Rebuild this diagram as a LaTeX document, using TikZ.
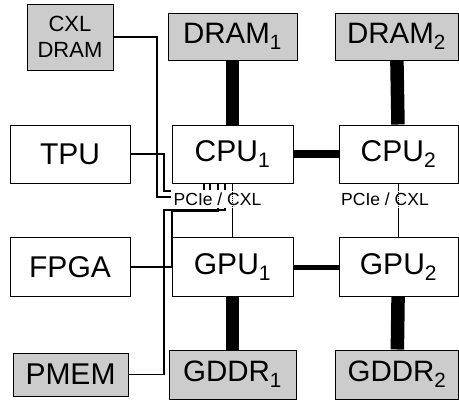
\documentclass[tikz,border=0pt]{standalone}
\usepackage{fontspec}
\setmainfont{Liberation Sans}
\usetikzlibrary{calc}
\newcommand\idx[1]{\textsubscript{#1}}
\begin{document}
\begin{tikzpicture}[x=1pt,y=-1pt,
  box/.style={draw=black, line width=1pt, fill=white, inner sep=0pt,
    font=\fontsize{30}{36}\selectfont},
  mem/.style={box, fill=black!20, font=\fontsize{29.5}{35}\selectfont},
  bus/.style={line width=1.4pt},
  fat/.style={line width=13.5pt},
  lbl/.style={fill=white, inner xsep=3pt, inner ysep=2.5pt,
    font=\fontsize{17.5}{21}\selectfont}]
\useasboundingbox (0,0) rectangle (459,400);

% nodes
\node[mem, minimum width=86pt, minimum height=66pt, align=center,
  font=\fontsize{22}{26}\selectfont] (cxl) at (70,37) {CXL\\DRAM};
\node[box, minimum width=120pt, minimum height=58pt] (tpu) at (70,154) {TPU};
\node[box, minimum width=120pt, minimum height=59pt] (fpga) at (70,267) {FPGA};
\node[mem, minimum width=115pt, minimum height=43pt, font=\fontsize{30}{36}\selectfont] (pmem) at (70.5,374.5) {PMEM};

\node[mem, minimum width=129pt, minimum height=47pt] (dram1) at (232.5,36.5) {DRAM\idx{1}};
\node[mem, minimum width=123pt, minimum height=47pt] (dram2) at (396.5,36.5) {DRAM\idx{2}};
\node[box, minimum width=121pt, minimum height=58pt] (cpu1) at (232.5,154) {CPU\idx{1}};
\node[box, minimum width=119pt, minimum height=58pt] (cpu2) at (398.5,154) {CPU\idx{2}};
\node[box, minimum width=121pt, minimum height=59pt] (gpu1) at (232.5,267) {GPU\idx{1}};
\node[box, minimum width=119pt, minimum height=59pt] (gpu2) at (398.5,267) {GPU\idx{2}};
\node[mem, minimum width=127pt, minimum height=49pt] (gddr1) at (232.5,374.5) {GDDR\idx{1}};
\node[mem, minimum width=123pt, minimum height=49pt] (gddr2) at (397,374.5) {GDDR\idx{2}};

% taps on the CPU1 bottom
\coordinate (t1) at ([xshift=-28.5pt]cpu1.south);
\coordinate (t2) at ([xshift=-22.5pt]cpu1.south);
\coordinate (t3) at ([xshift=-14.5pt]cpu1.south);
\coordinate (t4) at ([xshift=-7.5pt]cpu1.south);

% memory / interconnect links
\draw[fat] (dram1) -- (cpu1);
\draw[fat] (dram2) -- (cpu2);
\draw[fat] (gpu1) -- (gddr1);
\draw[fat] (gpu2) -- (gddr2);
\draw[line width=8pt] (cpu1) -- (cpu2);
\draw[line width=5pt] (gpu1) -- (gpu2);
\draw[bus] (cpu1) -- (gpu1);
\draw[bus] (cpu2) -- (gpu2);

% peripheral buses
\draw[bus] (cxl.east) -| (157,197) -| (t1);
\draw[bus] (tpu.east) -| (164,191) -| (t2);
\draw[bus] (fpga.east) -| (172,211) -| (t3);
\draw[bus] (pmem.east) -| (164,210) -| (t4);

% labels
\node[lbl, anchor=base] (lbl1) at (217.5,205) {PCIe / CXL};
\node[lbl, anchor=base] (lbl2) at (385,205) {PCIe / CXL};
\draw[densely dotted, line width=1pt] (lbl1.north -| cpu1.south) -- (lbl1.south -| cpu1.south);
\draw[densely dotted, line width=1pt] (lbl2.north -| cpu2.south) -- (lbl2.south -| cpu2.south);
\end{tikzpicture}
\end{document}
